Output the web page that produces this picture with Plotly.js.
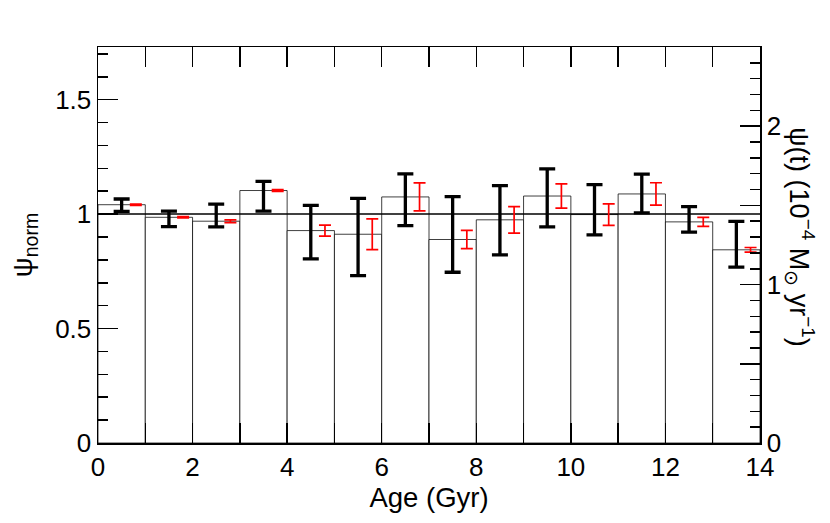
<!DOCTYPE html>
<html>
<head>
<meta charset="utf-8">
<script src="https://cdn.plot.ly/plotly-3.0.1.min.js"></script>
<style>html,body{margin:0;padding:0;background:#fff;}</style>
</head>
<body>
<div id="chart" style="width:830px;height:523px;"></div>
<script>
// Age bins (Gyr, bin centres) and normalised SFH values
const ageBins   = [0.5, 1.5, 2.5, 3.5, 4.5, 5.5, 6.5, 7.5, 8.5, 9.5, 10.5, 11.5, 12.5, 13.5];
const psiNorm   = [1.041, 0.986, 0.969, 1.103, 0.928, 0.912, 1.075, 0.889, 0.975, 1.079, 0.998, 1.088, 0.966, 0.844];
// black error bars (centre, half-size)
const blackMid  = [1.039, 0.979, 0.994, 1.078, 0.921, 0.900, 1.063, 0.911, 0.973, 1.071, 1.019, 1.090, 0.977, 0.868];
const blackErr  = [0.027, 0.034, 0.050, 0.065, 0.117, 0.169, 0.113, 0.165, 0.151, 0.127, 0.110, 0.085, 0.056, 0.100];
// red error bars (centred on histogram values)
const redErr    = [0.003, 0.003, 0.006, 0.004, 0.024, 0.067, 0.061, 0.040, 0.058, 0.053, 0.047, 0.049, 0.020, 0.010];
const refAge    = [0, 14];
const refLevel  = [1, 1];
const xTicks    = [0,1,2,3,4,5,6,7,8,9,10,11,12,13,14];
const xTickText = ['0','','2','','4','','6','','8','','10','','12','','14'];
const y2Ticks   = [0, 0.5, 1, 1.5, 2];
const y2Text    = ['0','','1','','2'];

const redOffset = 0.3;
const FONT = '"Liberation Sans", Arial, Helvetica, sans-serif';

const traces = [
  {
    type: 'bar', x: ageBins, y: psiNorm, width: 1,
    marker: {color: '#ffffff', line: {color: 'rgba(0,0,0,0.75)', width: 1}},
    hoverinfo: 'skip', showlegend: false
  },
  {
    type: 'scatter', mode: 'lines', x: refAge, y: refLevel,
    line: {color: '#000', width: 1.5}, hoverinfo: 'skip', showlegend: false
  },
  {
    type: 'scatter', mode: 'markers', x: ageBins, y: blackMid,
    marker: {size: 1, color: 'rgba(0,0,0,0)'},
    error_y: {type: 'data', array: blackErr, visible: true, color: '#000', thickness: 3.3, width: 8},
    showlegend: false
  },
  {
    type: 'scatter', mode: 'markers', x: ageBins.map(a => a + redOffset), y: psiNorm,
    marker: {size: 1, color: 'rgba(0,0,0,0)'},
    error_y: {type: 'data', array: redErr, visible: true, color: '#ff0000', thickness: 1.7, width: 6},
    showlegend: false
  },
  {
    type: 'scatter', mode: 'markers', x: [0], y: [0], yaxis: 'y2',
    marker: {size: 1, color: 'rgba(0,0,0,0)'}, hoverinfo: 'skip', showlegend: false
  }
];

const layout = {
  width: 830, height: 523,
  margin: {l: 98, r: 70, t: 47, b: 80},
  paper_bgcolor: '#fff', plot_bgcolor: '#fff',
  font: {family: FONT, size: 26, color: '#000'},
  bargap: 0,
  showlegend: false,
  xaxis: {
    range: [0, 14], tickvals: xTicks, ticktext: xTickText,
    ticks: 'inside', ticklen: 20, tickwidth: 1.5, tickcolor: '#000',
    showline: true, linecolor: '#000', linewidth: 1.5, mirror: 'ticks',
    showgrid: false, zeroline: false,
    tickfont: {size: 26},
    title: {text: 'Age (Gyr)', font: {size: 27.5}, standoff: 0},
    automargin: false
  },
  yaxis: {
    range: [0, 1.73], tickvals: [0, 0.5, 1, 1.5], ticktext: ['0', '0.5', '1', '1.5'],
    ticks: 'inside', ticklen: 20, tickwidth: 1.5, tickcolor: '#000',
    minor: {dtick: 0.1, ticks: 'inside', ticklen: 10, tickwidth: 1.5, tickcolor: '#000', showgrid: false},
    showline: true, linecolor: '#000', linewidth: 1.5,
    showgrid: false, zeroline: false,
    tickfont: {size: 26},
    title: {text: 'ψ<sub>norm</sub>', font: {size: 28}, standoff: 14},
    automargin: false
  },
  yaxis2: {
    overlaying: 'y', side: 'right', range: [0, 2.5],
    tickvals: y2Ticks, ticktext: y2Text,
    ticks: 'inside', ticklen: 20, tickwidth: 1.5, tickcolor: '#000',
    minor: {dtick: 0.1, ticks: 'inside', ticklen: 10, tickwidth: 1.5, tickcolor: '#000', showgrid: false},
    showline: true, linecolor: '#000', linewidth: 1.5,
    showgrid: false, zeroline: false,
    tickfont: {size: 26},
    automargin: false
  },
  annotations: [{
    xref: 'paper', yref: 'paper', x: 1.06, y: 0.52,
    xanchor: 'center', yanchor: 'middle', textangle: 90, showarrow: false,
    text: 'ψ(t) (10<sup>−4</sup> M<sub>⊙</sub> yr<sup>−1</sup>)',
    font: {family: FONT, size: 27, color: '#000'}
  }]
};

Plotly.newPlot('chart', traces, layout, {displayModeBar: false, staticPlot: true});
</script>
</body>
</html>
